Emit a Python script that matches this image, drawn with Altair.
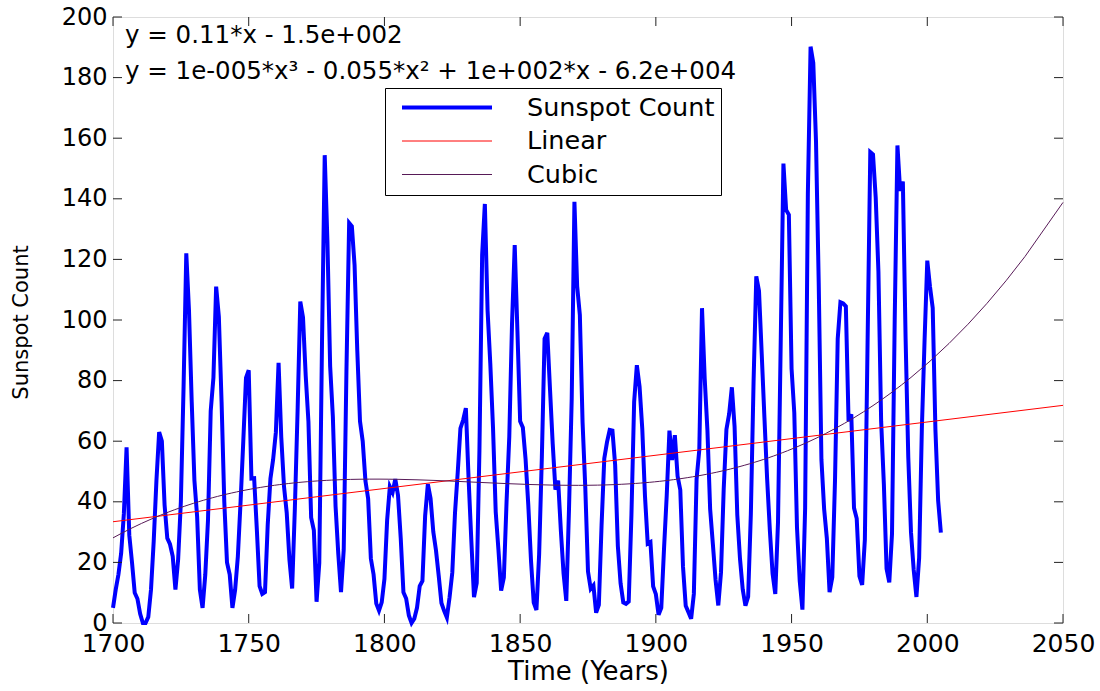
import altair as alt
import pandas as pd

years = list(range(1700, 2006))
counts = [
    5, 11, 16, 23, 36, 58, 29, 20, 10, 8,
    3, 0, 0, 2, 11, 27, 47, 63, 60, 39,
    28, 26, 22, 11, 21, 40, 78, 122, 103, 73,
    47, 35, 11, 5, 16, 34, 70, 81, 111, 101,
    73, 40, 20, 16, 5, 11, 22, 40, 60, 80.9,
    83.4, 47.7, 47.8, 30.7, 12.2, 9.6, 10.2, 32.4, 47.6, 54.0,
    62.9, 85.9, 61.2, 45.1, 36.4, 20.9, 11.4, 37.8, 69.8, 106.1,
    100.8, 81.6, 66.5, 34.8, 30.6, 7.0, 19.8, 92.5, 154.4, 125.9,
    84.8, 68.1, 38.5, 22.8, 10.2, 24.1, 82.9, 132.0, 130.9, 118.1,
    89.9, 66.6, 60.0, 46.9, 41.0, 21.3, 16.0, 6.4, 4.1, 6.8,
    14.5, 34.0, 45.0, 43.1, 47.5, 42.2, 28.1, 10.1, 8.1, 2.5,
    0.0, 1.4, 5.0, 12.2, 13.9, 35.4, 45.8, 41.1, 30.1, 23.9,
    15.6, 6.6, 4.0, 1.8, 8.5, 16.6, 36.3, 49.6, 64.2, 67.0,
    70.9, 47.8, 27.5, 8.5, 13.2, 56.9, 121.5, 138.3, 103.2, 85.7,
    64.6, 36.7, 24.2, 10.7, 15.0, 40.1, 61.5, 98.5, 124.7, 96.3,
    66.6, 64.5, 54.1, 39.0, 20.6, 6.7, 4.3, 22.7, 54.8, 93.8,
    95.8, 77.2, 59.1, 44.0, 47.0, 30.5, 16.3, 7.3, 37.6, 74.0,
    139.0, 111.2, 101.6, 66.2, 44.7, 17.0, 11.3, 12.4, 3.4, 6.0,
    32.3, 54.3, 59.7, 63.7, 63.5, 52.2, 25.4, 13.1, 6.8, 6.3,
    7.1, 35.6, 73.0, 85.1, 78.0, 64.0, 41.8, 26.2, 26.7, 12.1,
    9.5, 2.7, 5.0, 24.4, 42.0, 63.5, 53.8, 62.0, 48.5, 43.9,
    18.6, 5.7, 3.6, 1.4, 9.6, 47.4, 57.1, 103.9, 80.6, 63.6,
    37.6, 26.1, 14.2, 5.8, 16.7, 44.3, 63.9, 69.0, 77.8, 64.9,
    35.7, 21.2, 11.1, 5.7, 8.7, 36.1, 79.7, 114.4, 109.6, 88.8,
    67.8, 47.5, 30.6, 16.3, 9.6, 33.2, 92.6, 151.6, 136.3, 134.7,
    83.9, 69.4, 31.5, 13.9, 4.4, 38.0, 141.7, 190.2, 184.8, 159.0,
    112.3, 53.9, 37.6, 27.9, 10.2, 15.1, 47.0, 93.8, 105.9, 105.5,
    104.5, 66.6, 68.9, 38.0, 34.5, 15.5, 12.6, 27.5, 92.5, 155.4,
    154.6, 140.4, 115.9, 66.6, 45.9, 17.9, 13.4, 29.4, 100.2, 157.6,
    142.6, 145.7, 94.3, 54.6, 29.9, 17.5, 8.6, 21.5, 64.3, 93.3,
    119.6, 111.0, 104.0, 63.7, 40.4, 29.8,
]
x_ticks = [1700, 1750, 1800, 1850, 1900, 1950, 2000, 2050]
y_ticks = [0, 20, 40, 60, 80, 100, 120, 140, 160, 180, 200]
series_names = ["Sunspot Count", "Linear", "Cubic"]
series_colors = ["#0000ff", "#ff0000", "#571a57"]
series_widths = [4, 1, 1]
eq_linear = "y = 0.11*x - 1.5e+002"
eq_cubic = "y = 1e-005*x³ - 0.055*x² + 1e+002*x - 6.2e+004"
x_title = "Time (Years)"
y_title = "Sunspot Count"

W, H = 950, 606
FONT = "DejaVu Sans"

df = pd.DataFrame({"year": years, "count": counts})
xt = pd.DataFrame({"year": x_ticks})
yt = pd.DataFrame({"count": y_ticks})

xs = alt.Scale(domain=[1700, 2050], nice=False, zero=False)
ys = alt.Scale(domain=[0, 200], nice=False, zero=False)

leg = alt.Legend(
    title=None, orient="none", legendX=272, legendY=71,
    fillColor="white", strokeColor="black", padding=6.5, cornerRadius=0,
    symbolType="stroke", symbolSize=8100, clipHeight=26, rowPadding=6.5,
    symbolOffset=8.5, labelOffset=33, labelFont=FONT, labelFontSize=25.5,
    labelColor="black", labelLimit=400,
)
color = alt.Color("series:N", scale=alt.Scale(domain=series_names, range=series_colors), legend=leg)
width_enc = alt.StrokeWidth("series:N", scale=alt.Scale(type="ordinal", domain=series_names, range=series_widths), legend=leg)

x_axis = alt.Axis(values=x_ticks, format="d", ticks=False, domain=False, grid=False, labelFlush=False,
                  labelOverlap=False, labelPadding=8, labelFont=FONT, labelFontSize=25,
                  labelColor="black", title=x_title, titleFont=FONT, titleFontSize=26,
                  titleFontWeight="normal", titleColor="black", titleY=48, titleBaseline="middle")
y_axis = alt.Axis(values=y_ticks, ticks=False, domain=False, grid=False, labelFlush=False,
                  labelOverlap=False, labelPadding=6, labelFont=FONT, labelFontSize=24,
                  labelColor="black", title=y_title, titleFont=FONT, titleFontSize=21,
                  titleFontWeight="normal", titleColor="black", titleX=-92, titleY=305,
                  titleAngle=270, titleBaseline="middle", titleLimit=400)

X = alt.X("year:Q", scale=xs, axis=x_axis)
Y = alt.Y("count:Q", scale=ys, axis=y_axis)

base = alt.Chart(df)

data_line = base.mark_line().transform_calculate(series='"Sunspot Count"').encode(
    x=X, y=Y, color=color, strokeWidth=width_enc,
)
lin = base.mark_line().transform_regression(
    "year", "count", method="linear", extent=[1700, 2050]
).transform_calculate(series='"Linear"').encode(
    x=X, y=Y, color=color, strokeWidth=width_enc,
)
cub = base.mark_line().transform_regression(
    "year", "count", method="poly", order=3, extent=[1700, 2050]
).transform_calculate(series='"Cubic"').encode(
    x=X, y=Y, color=color, strokeWidth=width_enc,
)

tick_len = 9
bx = alt.Chart(xt).mark_rule(color="#222", strokeWidth=1).encode(
    x=X, y=alt.value(H - tick_len), y2=alt.value(H))
tx = alt.Chart(xt).mark_rule(color="#222", strokeWidth=1).encode(
    x=X, y=alt.value(0), y2=alt.value(tick_len))
ly = alt.Chart(yt).mark_rule(color="#222", strokeWidth=1).encode(
    y=Y, x=alt.value(0), x2=alt.value(tick_len))
ry = alt.Chart(yt).mark_rule(color="#222", strokeWidth=1).encode(
    y=Y, x=alt.value(W - tick_len), x2=alt.value(W))

txt1 = alt.Chart(df).mark_text(align="left", baseline="middle", font=FONT, fontSize=24.5,
                               color="black", text=eq_linear).encode(
    x=alt.value(12), y=alt.value(19)).transform_filter("datum.year == 1700")
txt2 = alt.Chart(df).mark_text(align="left", baseline="middle", font=FONT, fontSize=24.5,
                               color="black", text=eq_cubic).encode(
    x=alt.value(12), y=alt.value(55)).transform_filter("datum.year == 1700")

chart = alt.layer(data_line, lin, cub, bx, tx, ly, ry, txt1, txt2).properties(
    width=W, height=H,
    autosize=alt.AutoSizeParams(type="none"),
    padding={"left": 113, "top": 17, "right": 37, "bottom": 68},
).configure_view(stroke="#111", strokeWidth=2).configure(background="white")

chart.save("out.html", embed_options={"renderer": "svg", "actions": False})
